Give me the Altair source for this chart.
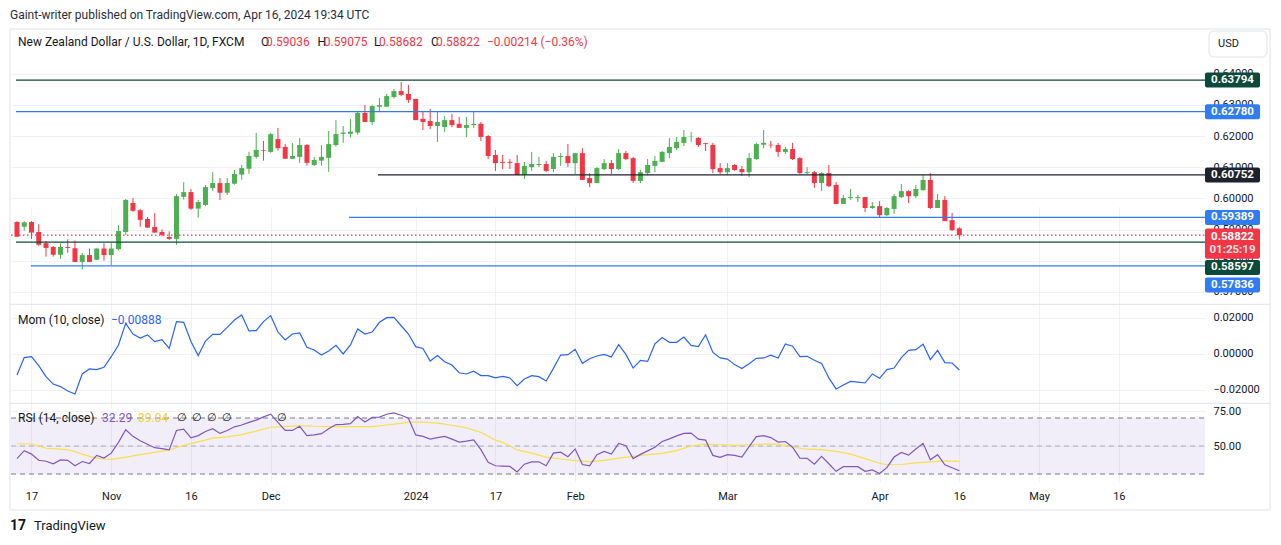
import altair as alt
import pandas as pd

# ---------------- data ----------------
opens = [
    0.5924, 0.5909, 0.5924, 0.5892, 0.5856, 0.5844, 0.5819, 0.5844, 0.5840, 0.5796,
    0.5818, 0.5803, 0.5839, 0.5818, 0.5837, 0.5892, 0.5985, 0.5962, 0.5934, 0.5908,
    0.5892, 0.5876, 0.5870, 0.6005, 0.6020, 0.5967, 0.5979, 0.6033, 0.6049, 0.6018,
    0.6047, 0.6076, 0.6095, 0.6133, 0.6155, 0.6149, 0.6190, 0.6165, 0.6127, 0.6133,
    0.6171, 0.6107, 0.6121, 0.6130, 0.6171, 0.6207, 0.6207, 0.6211, 0.6274, 0.6245,
    0.6294, 0.6294, 0.6325, 0.6344, 0.6335, 0.6319, 0.6255, 0.6248, 0.6232, 0.6229,
    0.6251, 0.6239, 0.6226, 0.6235, 0.6239, 0.6200, 0.6139, 0.6117, 0.6117, 0.6113,
    0.6075, 0.6100, 0.6107, 0.6110, 0.6094, 0.6133, 0.6136, 0.6113, 0.6145, 0.6065,
    0.6049, 0.6094, 0.6113, 0.6094, 0.6145, 0.6129, 0.6056, 0.6081, 0.6104, 0.6117,
    0.6145, 0.6161, 0.6178, 0.6197, 0.6194, 0.6177, 0.6171, 0.6097, 0.6084, 0.6107,
    0.6094, 0.6084, 0.6126, 0.6172, 0.6172, 0.6171, 0.6149, 0.6158, 0.6129, 0.6081,
    0.6084, 0.6049, 0.6081, 0.6043, 0.5982, 0.6001, 0.6001, 0.6004, 0.5969, 0.5975,
    0.5946, 0.5966, 0.6004, 0.6023, 0.6007, 0.6026, 0.6059, 0.5969, 0.5995, 0.5930,
    0.59036]
highs = [
    0.5927, 0.5927, 0.5927, 0.5917, 0.5863, 0.5847, 0.5856, 0.5869, 0.5865, 0.5825,
    0.5839, 0.5840, 0.5856, 0.5856, 0.5914, 0.5998, 0.6001, 0.5965, 0.5940, 0.5952,
    0.5901, 0.5894, 0.6014, 0.6052, 0.6030, 0.5995, 0.6043, 0.6084, 0.6065, 0.6065,
    0.6091, 0.6107, 0.6149, 0.6210, 0.6184, 0.6210, 0.6226, 0.6174, 0.6178, 0.6194,
    0.6174, 0.6133, 0.6171, 0.6216, 0.6251, 0.6232, 0.6255, 0.6277, 0.6300, 0.6300,
    0.6322, 0.6335, 0.6351, 0.6373, 0.6364, 0.6319, 0.6277, 0.6287, 0.6280, 0.6264,
    0.6271, 0.6261, 0.6261, 0.6280, 0.6245, 0.6203, 0.6155, 0.6139, 0.6126, 0.6139,
    0.6117, 0.6149, 0.6133, 0.6120, 0.6145, 0.6145, 0.6174, 0.6145, 0.6161, 0.6081,
    0.6100, 0.6126, 0.6123, 0.6158, 0.6152, 0.6133, 0.6091, 0.6126, 0.6136, 0.6152,
    0.6194, 0.6197, 0.6219, 0.6213, 0.6197, 0.6178, 0.6178, 0.6113, 0.6113, 0.6110,
    0.6104, 0.6145, 0.6178, 0.6219, 0.6184, 0.6178, 0.6165, 0.6178, 0.6133, 0.6100,
    0.6088, 0.6084, 0.6107, 0.6052, 0.6011, 0.6030, 0.6011, 0.6004, 0.5988, 0.5991,
    0.5972, 0.6014, 0.6046, 0.6026, 0.6043, 0.6075, 0.6081, 0.6014, 0.6007, 0.5953,
    0.59075]
lows = [
    0.5877, 0.5896, 0.5870, 0.5848, 0.5813, 0.5813, 0.5806, 0.5825, 0.5796, 0.5772,
    0.5796, 0.5803, 0.5800, 0.5786, 0.5833, 0.5883, 0.5957, 0.5909, 0.5906, 0.5890,
    0.5878, 0.5867, 0.5851, 0.5996, 0.5963, 0.5938, 0.5975, 0.6024, 0.5995, 0.6011,
    0.6044, 0.6060, 0.6079, 0.6127, 0.6121, 0.6146, 0.6153, 0.6127, 0.6127, 0.6114,
    0.6105, 0.6104, 0.6105, 0.6085, 0.6166, 0.6178, 0.6195, 0.6204, 0.6245, 0.6235,
    0.6278, 0.6294, 0.6320, 0.6328, 0.6306, 0.6251, 0.6219, 0.6222, 0.6181, 0.6213,
    0.6229, 0.6226, 0.6197, 0.6226, 0.6184, 0.6126, 0.6088, 0.6094, 0.6094, 0.6075,
    0.6062, 0.6088, 0.6100, 0.6084, 0.6084, 0.6104, 0.6100, 0.6078, 0.6059, 0.6036,
    0.6049, 0.6091, 0.6078, 0.6091, 0.6123, 0.6049, 0.6049, 0.6075, 0.6084, 0.6117,
    0.6129, 0.6155, 0.6168, 0.6181, 0.6165, 0.6152, 0.6081, 0.6078, 0.6075, 0.6088,
    0.6072, 0.6068, 0.6123, 0.6161, 0.6161, 0.6133, 0.6142, 0.6123, 0.6078, 0.6078,
    0.6033, 0.6023, 0.6036, 0.5982, 0.5982, 0.5995, 0.5988, 0.5956, 0.5966, 0.5937,
    0.5943, 0.5950, 0.6001, 0.5985, 0.6001, 0.6026, 0.5966, 0.5969, 0.5927, 0.5895,
    0.58682]
closes = [
    0.5877, 0.5923, 0.5890, 0.5851, 0.5841, 0.5819, 0.5844, 0.5841, 0.5796, 0.5818,
    0.5796, 0.5839, 0.5818, 0.5839, 0.5895, 0.5995, 0.5960, 0.5931, 0.5906, 0.5890,
    0.5883, 0.5870, 0.6007, 0.6020, 0.5967, 0.5988, 0.6036, 0.6049, 0.6018, 0.6049,
    0.6078, 0.6097, 0.6136, 0.6155, 0.6153, 0.6206, 0.6161, 0.6127, 0.6136, 0.6171,
    0.6114, 0.6123, 0.6133, 0.6174, 0.6206, 0.6211, 0.6214, 0.6274, 0.6245, 0.6296,
    0.6299, 0.6328, 0.6344, 0.6332, 0.6316, 0.6251, 0.6245, 0.6232, 0.6245, 0.6251,
    0.6235, 0.6226, 0.6235, 0.6239, 0.6197, 0.6136, 0.6113, 0.6114, 0.6114, 0.6075,
    0.6104, 0.6110, 0.6110, 0.6088, 0.6133, 0.6136, 0.6113, 0.6145, 0.6059, 0.6049,
    0.6097, 0.6113, 0.6094, 0.6145, 0.6126, 0.6056, 0.6084, 0.6107, 0.6120, 0.6149,
    0.6165, 0.6181, 0.6197, 0.6198, 0.6171, 0.6174, 0.6094, 0.6084, 0.6097, 0.6091,
    0.6084, 0.6129, 0.6174, 0.6178, 0.6170, 0.6149, 0.6158, 0.6126, 0.6081, 0.6084,
    0.6049, 0.6081, 0.6039, 0.5982, 0.6001, 0.6004, 0.6004, 0.5969, 0.5975, 0.5946,
    0.5969, 0.6007, 0.6023, 0.6007, 0.6030, 0.6059, 0.5969, 0.5995, 0.5927, 0.5898,
    0.58822]

mom = [
    -0.0117, -0.0020, -0.0015, -0.0065, -0.0126, -0.0167, -0.0181, -0.0206, -0.0222, -0.0111,
    -0.0083, -0.0087, -0.0074, -0.0015, 0.0050, 0.0170, 0.0111, 0.0089, 0.0106, 0.0069,
    0.0080, 0.0031, 0.0180, 0.0176, 0.0069, -0.0009, 0.0072, 0.0109, 0.0109, 0.0148,
    0.0189, 0.0217, 0.0128, 0.0130, 0.0180, 0.0213, 0.0122, 0.0078, 0.0111, 0.0117,
    0.0037, 0.0022, -0.0006, 0.0017, 0.0048, 0.0000, 0.0050, 0.0139, 0.0111, 0.0122,
    0.0176, 0.0202, 0.0204, 0.0157, 0.0111, 0.0041, 0.0031, -0.0039, -0.0009, -0.0043,
    -0.0061, -0.0104, -0.0111, -0.0096, -0.0120, -0.0120, -0.0133, -0.0124, -0.0133, -0.0176,
    -0.0139, -0.0120, -0.0126, -0.0150, -0.0080, -0.0006, -0.0004, 0.0026, -0.0052, -0.0026,
    -0.0011, -0.0002, -0.0017, 0.0052, -0.0002, -0.0078, -0.0035, -0.0041, 0.0056, 0.0091,
    0.0065, 0.0065, 0.0094, 0.0048, 0.0041, 0.0107, 0.0009, -0.0022, -0.0028, -0.0059,
    -0.0081, -0.0054, -0.0024, -0.0022, -0.0007, -0.0022, 0.0056, 0.0043, -0.0015, -0.0013,
    -0.0035, -0.0052, -0.0133, -0.0194, -0.0172, -0.0152, -0.0156, -0.0161, -0.0111, -0.0135,
    -0.0087, -0.0078, -0.0020, 0.0020, 0.0024, 0.0054, -0.0031, 0.0020, -0.0048, -0.0050,
    -0.00888]

rsi = [
    41.0, 46.7, 44.2, 39.8, 39.1, 37.3, 40.1, 39.8, 35.9, 38.9,
    37.5, 43.3, 41.4, 44.9, 52.6, 61.6, 56.9, 53.7, 51.2, 48.8,
    48.1, 47.2, 61.1, 62.0, 55.8, 57.4, 60.4, 62.3, 59.0, 61.1,
    63.7, 65.0, 66.9, 68.5, 70.8, 72.7, 66.9, 61.1, 61.1, 64.1,
    57.4, 57.9, 58.8, 62.3, 65.3, 65.5, 66.0, 71.0, 67.1, 70.4,
    70.6, 72.7, 73.6, 72.0, 69.9, 57.9, 56.9, 54.9, 56.0, 56.9,
    54.9, 52.8, 53.5, 54.4, 47.4, 38.4, 35.9, 35.6, 35.4, 31.5,
    37.0, 38.7, 38.7, 35.9, 44.9, 45.6, 42.4, 47.9, 36.8, 35.9,
    43.8, 46.1, 44.2, 51.9, 50.2, 41.0, 44.0, 46.5, 49.1, 53.2,
    55.1, 57.2, 59.0, 59.2, 54.9, 54.2, 43.3, 41.9, 43.8, 43.3,
    42.1, 49.5, 56.7, 57.4, 56.0, 52.8, 53.2, 49.1, 41.4, 41.2,
    37.0, 42.6, 37.3, 31.9, 35.2, 35.2, 35.2, 31.9, 32.9, 30.3,
    34.5, 42.1, 45.4, 43.5, 47.9, 51.9, 40.1, 43.8, 36.6, 34.5,
    32.29]

ma_idx = [1, 3, 4, 5, 7, 8, 9, 10, 11, 12, 13, 14, 15, 16, 18, 20, 22, 24, 26, 28,
          30, 32, 34, 36, 38, 40, 42, 44, 47, 50, 52, 54, 55, 57, 59, 61, 63, 65, 66, 67,
          68, 70, 72, 74, 76, 78, 80, 82, 84, 86, 88, 90, 92, 94, 96, 98, 100, 102, 104, 106,
          108, 110, 112, 114, 116, 118, 120, 121, 123, 125, 127, 129, 131]
ma_val = [51.6, 51.4, 50.0, 48.4, 47.7, 47.2, 46.1, 44.2, 42.6, 41.4, 40.7, 40.5, 41.2, 42.1,
          43.8, 45.4, 47.2, 50.5, 53.0, 55.6, 56.5, 58.1, 60.6, 63.4, 63.9, 64.6, 64.1, 63.9,
          63.9, 63.9, 65.0, 66.2, 67.1, 67.1, 66.4, 64.8, 63.0, 59.7, 56.9, 54.2, 52.6, 47.2,
          44.9, 42.1, 40.7, 39.6, 38.9, 39.8, 41.4, 42.6, 43.8, 44.7, 46.7, 50.0, 51.4, 50.9,
          50.5, 50.9, 51.4, 51.4, 49.3, 47.7, 47.4, 46.1, 44.2, 41.0, 37.7, 36.6, 36.8, 38.0,
          38.7, 39.4, 39.04]

level_values = [0.63794, 0.62780, 0.60752, 0.59389, 0.58597, 0.57836]
level_start = [0.863, 0.863, 50.8, 46.8, 0.863, 2.9]
level_colors = ["#0b4a3a", "#2f7cf6", "#1e222d", "#2f7cf6", "#0b4a3a", "#2f7cf6"]
tag_text = ["0.63794", "0.62780", "0.60752", "0.59389", "0.58597", "0.57836"]
tag_pos = [0.63794, 0.62780, 0.60752, 0.59389, 0.57782, 0.57220]

last_price = 0.58822
last_text = "0.58822"
countdown = "01:25:19"

tick_idx = [3, 14, 25, 36, 56, 67, 78, 99, 120, 131, 142, 153]
tick_lab = ["17", "Nov", "16", "Dec", "2024", "17", "Feb", "Mar", "Apr", "16", "May", "16"]

price_ticks = [0.57, 0.58, 0.59, 0.60, 0.61, 0.62, 0.63, 0.64]
mom_ticks = [-0.02, 0.0, 0.02]
rsi_ticks = [50, 75]

# ---------------- styling ----------------
FONT = "Roboto"
GREEN = "#4caf50"
RED = "#f23645"
TXT = "#131722"
GRID = "#f0f2f6"
W = 1194
H = 453

idx = list(range(1, len(closes) + 1))
df = pd.DataFrame({"idx": idx, "open": opens, "high": highs, "low": lows, "close": closes})
mom_df = pd.DataFrame({"idx": idx, "mom": mom})
rsi_df = pd.DataFrame({"idx": idx, "rsi": rsi})
ma_df = pd.DataFrame({"idx": ma_idx, "ma": ma_val})
lvl_df = pd.DataFrame({"value": level_values, "start": level_start, "color": level_colors})
tag_df = pd.DataFrame({"pos": tag_pos, "txt": tag_text, "fill": level_colors})
one = pd.DataFrame({"k": [0]})
base = alt.Chart(one)

label_expr = "''"
for v, l in reversed(list(zip(tick_idx, tick_lab))):
    label_expr = f"datum.value == {v} ? '{l}' : ({label_expr})"

XS = alt.Scale(domain=[0.863, 164.2], nice=False, zero=False)
x_axis = alt.Axis(values=tick_idx, labelExpr=label_expr, title=None, grid=True, gridColor=GRID,
                  ticks=False, tickSize=0, domain=False, labelPadding=8, labelFontSize=11,
                  labelColor=TXT, labelFont=FONT, labelFlush=False, labelOverlap=False)


def X(field):
    return alt.X(f"{field}:Q", scale=XS, axis=x_axis)


P_SCALE = alt.Scale(domain=[0.566009, 0.654326], range=[275.3, 0], nice=False, zero=False)
M_SCALE = alt.Scale(domain=[-0.027389, 0.027611], range=[374.3, 275.3], nice=False, zero=False)
R_SCALE = alt.Scale(domain=[24.5, 80.5], range=[452.7, 374.3], nice=False, zero=False)


def right_axis(values, fmt):
    return alt.Axis(orient="right", values=values, format=fmt, title=None, grid=True,
                    gridColor=GRID, ticks=False, tickSize=0, domain=False, labelPadding=8,
                    labelFontSize=11, labelColor=TXT, labelFont=FONT, labelOverlap=False,
                    labelAlign="left", labelBaseline="middle")


def txt(s, x, y, color=TXT, size=12, weight="normal", align="left"):
    return base.mark_text(text=s, align=align, baseline="middle", color=color, fontSize=size,
                          fontWeight=weight, font=FONT).encode(x=alt.value(x), y=alt.value(y))


layers = []

# frame and panel separators
layers.append(base.mark_rect(fillOpacity=0, stroke="#e0e3eb", strokeWidth=1).encode(
    x=alt.value(-1), x2=alt.value(1259), y=alt.value(0), y2=alt.value(481)))
for ys in (275.3, 374.3):
    layers.append(base.mark_rule(color="#e0e3eb", strokeWidth=1).encode(
        x=alt.value(-1), x2=alt.value(1259), y=alt.value(ys)))

# RSI band + guide lines
layers.append(base.mark_rect(color="#7e57c2", opacity=0.1).encode(
    x=alt.value(0), x2=alt.value(W),
    y=alt.YDatum(70, scale=R_SCALE, axis=None, type="quantitative"), y2=alt.Y2Datum(30)))
for lvl, op in ((70, 1.0), (30, 1.0), (50, 0.55)):
    layers.append(base.mark_rule(color="#787b86", strokeDash=[5, 4], strokeWidth=1, opacity=op).encode(
        x=alt.value(0), x2=alt.value(W),
        y=alt.YDatum(lvl, scale=R_SCALE, axis=None, type="quantitative")))

# candles
dir_color = alt.Color("dir:N", scale=alt.Scale(domain=["up", "down"], range=[GREEN, RED]), legend=None)
candles = alt.Chart(df).transform_calculate(dir="datum.close >= datum.open ? 'up' : 'down'")
layers.append(candles.mark_rule(strokeWidth=1, clip=True).encode(
    x=X("idx"), y=alt.Y("low:Q", scale=P_SCALE, axis=right_axis(price_ticks, ".5f")),
    y2="high:Q", color=dir_color))
layers.append(candles.mark_bar(size=5, clip=True).encode(
    x=X("idx"), y=alt.Y("open:Q", scale=P_SCALE, axis=None), y2="close:Q", color=dir_color))

# horizontal levels
layers.append(alt.Chart(lvl_df).mark_rule(strokeWidth=1.2).encode(
    x=X("start"), x2=alt.value(W),
    y=alt.Y("value:Q", scale=P_SCALE, axis=None), color=alt.Color("color:N", scale=None)))
layers.append(base.mark_rule(color=RED, strokeDash=[1.5, 2.5], strokeWidth=1.3).encode(
    x=alt.value(0), x2=alt.value(W),
    y=alt.YDatum(last_price, scale=P_SCALE, axis=None, type="quantitative")))

# momentum
layers.append(alt.Chart(mom_df).mark_line(color="#2962ff", strokeWidth=1.2).encode(
    x=X("idx"), y=alt.Y("mom:Q", scale=M_SCALE, axis=right_axis(mom_ticks, ".5f"))))

# RSI
layers.append(alt.Chart(ma_df).mark_line(color="#f8e04a", strokeWidth=1.2).encode(
    x=X("idx"), y=alt.Y("ma:Q", scale=R_SCALE, axis=None)))
layers.append(alt.Chart(rsi_df).mark_line(color="#7e57c2", strokeWidth=1.2).encode(
    x=X("idx"), y=alt.Y("rsi:Q", scale=R_SCALE, axis=right_axis(rsi_ticks, ".2f"))))

# price tags on the right
layers.append(alt.Chart(tag_df).mark_rect(yOffset=-7.5, y2Offset=7.5, cornerRadius=2).encode(
    x=alt.value(W), x2=alt.value(W + 55),
    y=alt.Y("pos:Q", scale=P_SCALE, axis=None), y2="pos:Q",
    color=alt.Color("fill:N", scale=None)))
layers.append(alt.Chart(tag_df).mark_text(color="white", fontSize=11.5, fontWeight="bold", font=FONT).encode(
    x=alt.value(W + 27.5), y=alt.Y("pos:Q", scale=P_SCALE, axis=None), text="txt:N"))
layers.append(base.mark_rect(color=RED, yOffset=-6.6, y2Offset=23.8, cornerRadius=2).encode(
    x=alt.value(W), x2=alt.value(W + 55),
    y=alt.YDatum(last_price, scale=P_SCALE, axis=None, type="quantitative"),
    y2=alt.Y2Datum(last_price)))
layers.append(base.mark_text(text=last_text, color="white", fontSize=11.5, fontWeight="bold",
                             font=FONT, dy=1.8).encode(
    x=alt.value(W + 27.5), y=alt.YDatum(last_price, scale=P_SCALE, axis=None, type="quantitative")))
layers.append(base.mark_text(text=countdown, color="#fde0e3", fontSize=11.5, fontWeight="bold",
                             font=FONT, dy=15.1).encode(
    x=alt.value(W + 27.5), y=alt.YDatum(last_price, scale=P_SCALE, axis=None, type="quantitative")))

# USD box
layers.append(base.mark_rect(fill="white", stroke="#e0e3eb", strokeWidth=1, cornerRadius=5).encode(
    x=alt.value(1198), x2=alt.value(1256), y=alt.value(2), y2=alt.value(28)))
layers.append(txt("USD", 1207, 15, size=11))

# header texts
layers.append(txt("Gaint-writer published on TradingView.com, Apr 16, 2024 19:34 UTC", -1, -14, color="#2a2e39"))
layers.append(txt("New Zealand Dollar / U.S. Dollar, 1D, FXCM", 7, 13))
for letter, lx, val, vx in (("O", 250, "0.59036", 255), ("H", 306.6, "0.59075", 312.8),
                            ("L", 363, "0.58682", 368), ("C", 420, "0.58822", 425)):
    layers.append(txt(letter, lx, 13))
    layers.append(txt(val, vx, 13, color=RED))
layers.append(txt("\u22120.00214 (\u22120.36%)", 476, 13, color=RED))

# indicator legends
layers.append(txt("Mom (10, close)", 7, 291))
layers.append(txt("\u22120.00888", 100, 291, color="#2962ff"))
layers.append(txt("RSI (14, close)", 7, 389))
layers.append(txt("32.29", 91, 389, color="#7e57c2"))
layers.append(txt("39.04", 127, 389, color="#f2cf1d"))
for ex in (166, 181, 196, 211, 266):
    layers.append(txt("\u2205", ex, 389, size=11))

# TradingView footer
layers.append(txt("17", -1, 497, size=14, weight="bold"))
layers.append(txt("TradingView", 23, 497, size=13))

chart = alt.layer(*layers).resolve_scale(y="independent").properties(
    width=W, height=H,
    autosize=alt.AutoSizeParams(type="none"),
    padding={"left": 3, "top": 21, "right": 66, "bottom": 55},
    background="white",
).configure_view(strokeWidth=0)

chart.save("out.html", embed_options={"renderer": "svg", "actions": False})
